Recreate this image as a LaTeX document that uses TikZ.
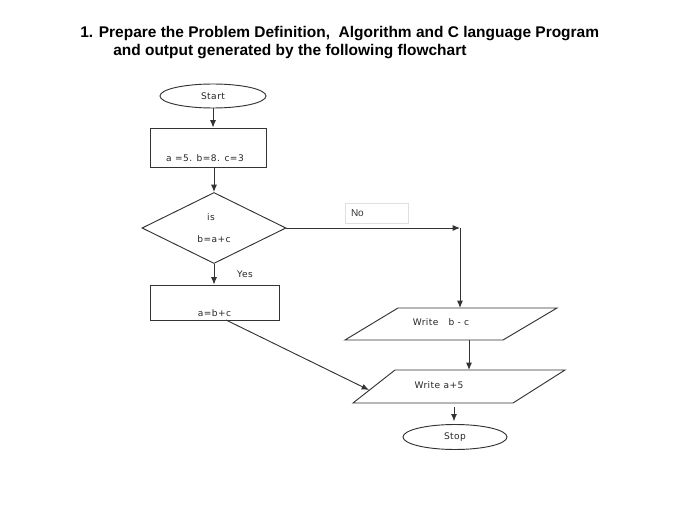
\documentclass[tikz,border=0pt]{standalone}
\usepackage{fontspec}
\setmainfont{Liberation Sans}
\newfontfamily\chartfont[LetterSpace=5]{DejaVu Sans}
\usetikzlibrary{shapes.geometric,arrows.meta}

\begin{document}
\begin{tikzpicture}[x=0.75pt,y=0.75pt,yscale=-1,xscale=1,
  chart/.style={font=\chartfont\fontsize{6.8}{8}\selectfont,text=black!85},
  flow/.style={draw=black!80,line width=0.7pt},
  arr/.style={flow,-{Latex[length=5.5pt,width=4.5pt]}},
  heading/.style={anchor=base west,inner sep=0pt,font=\bfseries\fontsize{11.6}{14}\selectfont}]
\useasboundingbox (0,0) rectangle (700,524);

% Title
\node[heading] (title1) at (80,38) {1. Prepare the Problem Definition,\ \ Algorithm and C language Program};
\node[heading] (title2) at (113,56) {and output generated by the following flowchart};

% Terminal Node
\node[ellipse,flow,minimum width=79.5pt,minimum height=18pt,chart] (start) at (213,96) {Start};
% Process Node
\node[rectangle,flow,minimum width=87pt,minimum height=29.25pt] (init) at (208,147.5) {};
\node[chart] (inittxt) at (205,158) {a =5. b=8. c=3};
% Decision Node
\node[diamond,flow,minimum width=108pt,minimum height=53.25pt,inner sep=0pt] (test) at (214,228) {};
\node[chart] (testis) at (211,217) {is};
\node[chart] (testeq) at (214,239) {b=a+c};
% Process Node
\node[rectangle,flow,minimum width=96.75pt,minimum height=26.25pt] (calc) at (214.5,302.5) {};
\node[chart] (calctxt) at (214.5,313) {a=b+c};
% Text Node
\node[chart] (yes) at (245,274) {Yes};
\node[draw=black!12,minimum width=47.25pt,minimum height=15pt,inner xsep=4.5pt,text width=38.25pt,align=left,font=\fontsize{7.5}{9}\selectfont,text=black!80] (no) at (376.5,213) {No};

%Parallelogram [Write b - c]
\draw[flow] (398,308) -- (557,308) -- (503,340) -- (345,340) -- cycle;
\node[chart] (writebc) at (441,322) {Write\ \ \ b - c};
\coordinate (wbctop) at (460,308);
\coordinate (wbcbot) at (469,340);
%Parallelogram [Write a+5]
\draw[flow] (395,370) -- (565,370) -- (513,403) -- (353,403) -- cycle;
\node[chart] (writea5) at (439,385) {Write a+5};
\coordinate (wa5top) at (469,370);
\coordinate (wa5left) at (369,390);
\coordinate (wa5bot) at (454,403);
% Terminal Node
\node[ellipse,flow,minimum width=78pt,minimum height=18.75pt,chart] (stop) at (455,437) {Stop};

%Connectors
\coordinate (corner) at (460,228);
\coordinate (calcout) at (226,320);
\draw[arr] (start.south) -- (start.south |- init.north);
\draw[arr] (init.south -| test.north) -- (test.north);
\draw[arr] (test.south) -- (test.south |- calc.north);
\draw[arr] (test.east) -- (corner);
\draw[arr] (corner) -- (wbctop);
\draw[arr] (wbcbot) -- (wa5top);
\draw[arr] (calcout) -- (wa5left);
\draw[arr,shorten <=3pt,shorten >=2pt] (wa5bot) -- (stop.north -| wa5bot);

\end{tikzpicture}
\end{document}
